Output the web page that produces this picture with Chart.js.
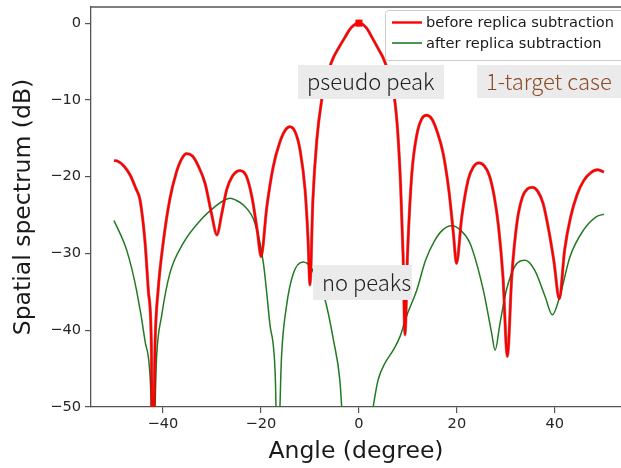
<!DOCTYPE html>
<html>
<head>
<meta charset="utf-8">
<script src="https://cdn.jsdelivr.net/npm/chart.js@4.4.1/dist/chart.umd.min.js"></script>
<style>
    html, body { margin: 0; padding: 0; background: #fff; overflow: hidden; }
    #wrap { width: 621px; height: 468px; }
</style>
</head>
<body>
<div id="wrap"><canvas id="graficoEspectro" width="621" height="468"></canvas></div>
<script>
// valores (angulo em graus, espectro em dB)
const beforeAngles = [
    -50.0, -49.2, -48.0, -46.7, -45.5, -44.7, -43.7, -43.0, -42.4, -42.1,
    -41.6, -41.0, -39.9, -38.6, -37.3, -36.2, -35.2, -34.0, -32.8, -31.4, -30.1, -29.0,
    -28.0, -27.0, -25.8, -24.3, -23.0, -21.8, -20.7, -20.0,
    -18.8, -17.5, -16.2, -15.1, -14.1, -13.0, -12.0, -11.0, -10.4, -10.0,
    -9.4, -8.6, -7.6, -6.9, -6.1, -5.3, -4.3, -3.0, -1.6, 0.0,
    1.5, 2.8, 4.0, 5.0, 5.8, 6.6, 7.3, 7.9, 8.5, 9.0, 9.4,
    9.9, 10.8, 11.8, 12.8, 13.8, 14.9, 16.0, 17.2, 18.4, 19.3, 19.9,
    21.0, 22.3, 23.4, 24.5, 25.6, 26.6, 27.6, 28.5, 29.4, 30.3,
    31.2, 32.3, 33.4, 34.4, 35.4, 36.5, 37.6, 38.7, 39.8, 40.9,
    42.0, 43.2, 44.5, 45.9, 47.3, 48.7, 50.0
]
const beforeDb = [
    -17.9, -18.0, -18.6, -19.8, -21.6, -23.0, -28.3, -34.8, -41.3, -58.0,
    -41.3, -34.8, -28.3, -22.9, -19.5, -17.7, -17.0, -17.3, -18.6, -20.9, -24.8, -27.6,
    -24.8, -21.7, -19.9, -19.2, -19.9, -22.8, -27.3, -30.4,
    -23.9, -18.7, -15.6, -14.0, -13.5, -14.2, -16.6, -21.7, -28.0, -34.1,
    -23.0, -15.2, -10.0, -7.8, -6.0, -4.6, -3.4, -2.0, -0.6, 0.0,
    -0.6, -2.0, -3.4, -4.6, -6.0, -7.8, -10.0, -14.0, -21.0, -30.0, -40.6,
    -30.4, -19.6, -14.6, -12.5, -12.0, -12.5, -14.2, -17.0, -22.0, -27.5, -31.3,
    -25.2, -20.4, -18.7, -18.2, -18.6, -19.8, -22.5, -26.5, -33.0, -43.4,
    -33.0, -25.8, -22.6, -21.6, -21.4, -21.9, -23.5, -26.8, -31.0, -35.9,
    -29.5, -25.3, -22.4, -20.5, -19.5, -19.1, -19.4
]

const afterAngles = [
    -50.0, -47.4, -45.4, -43.7, -42.5, -42.1, -41.3, -40.3, -38.6, -35.9, -32.4, -29.0, -27.6, -26.3, -25.0, -23.6,
    -21.2, -19.5, -18.2, -17.1, -16.6, -15.8, -14.8, -13.4, -11.4, -9.7, -8.4, -6.9, -5.2, -3.9, -1.5,
    1.0, 2.9, 3.9, 5.3, 7.0, 8.4, 9.7, 11.8, 13.6, 15.4, 17.0, 18.9, 20.8, 22.7, 25.4, 27.1, 27.8, 28.8, 30.1, 31.8,
    33.9, 35.9, 38.0, 39.5, 41.0, 43.1, 45.8, 48.5, 50.0
]
const afterDb = [
    -25.7, -29.6, -34.8, -41.3, -47.8, -58.0, -43.4, -38.2, -32.6, -28.7, -25.7, -23.7, -23.1, -22.8, -23.1, -23.7,
    -26.1, -31.3, -39.1, -45.6, -58.0, -43.4, -36.9, -32.6, -31.1, -31.9, -33.9, -36.1, -41.3, -46.5, -70.0,
    -58.0, -50.0, -46.5, -44.3, -42.6, -40.8, -38.2, -34.8, -30.9, -28.4, -27.0, -26.4, -27.0, -28.7, -34.8, -40.4, -42.6, -39.1, -34.8, -31.7,
    -30.9, -32.2, -35.6, -38.0, -35.6, -30.4, -27.0, -25.2, -24.9
]

const peakAngles = [0]
const peakDb = [0]

const xTicks = [-40, -20, 0, 20, 40]
const yTicks = [-50, -40, -30, -20, -10, 0]

const legendLabels = ['before replica subtraction', 'after replica subtraction']

const COR_ANTES = '#ff0000'
const COR_DEPOIS = '#237a23'
const COR_EIXO = '#555555'
const FONTE = "'DejaVu Sans', sans-serif"
const FONTE_NOTA = "'Noto Sans CJK JP', 'Noto Sans', sans-serif"

function pares(xs, ys) {
    return xs.map((x, i) => ({ x: x, y: ys[i] }))
}

function menos(v) {
    return String(v).replace('-', '\u2212')
}

function semPadding(s) {
    s.paddingLeft = 0
    s.paddingRight = 0
    s.paddingTop = 0
    s.paddingBottom = 0
}

// caixas de texto e legenda desenhadas por cima do grafico
const sobreposicao = {
    id: 'sobreposicao',
    afterDatasetsDraw(chart) {
        const ctx = chart.ctx
        const area = chart.chartArea

        // borda superior
        ctx.save()
        ctx.strokeStyle = COR_EIXO
        ctx.lineWidth = 1.3
        ctx.beginPath()
        ctx.moveTo(area.left, area.top)
        ctx.lineTo(area.right, area.top)
        ctx.stroke()

        const notas = [
            { texto: 'pseudo peak', x: 298, y: 65, w: 146, h: 34, cor: '#222222', tx: 307 },
            { texto: '1-target case', x: 477, y: 65, w: 150, h: 33, cor: '#8c4a26', tx: 486 },
            { texto: 'no peaks', x: 313, y: 265, w: 99, h: 35, cor: '#222222', tx: 322 }
        ]
        ctx.font = '300 22px ' + FONTE_NOTA
        ctx.textBaseline = 'middle'
        ctx.textAlign = 'left'
        notas.forEach(n => {
            ctx.fillStyle = '#ebebeb'
            ctx.fillRect(n.x, n.y, n.w, n.h)
            ctx.fillStyle = n.cor
            ctx.fillText(n.texto, n.tx, n.y + n.h / 2)
        })

        // legenda
        ctx.fillStyle = 'rgba(255,255,255,0.85)'
        ctx.strokeStyle = '#cccccc'
        ctx.lineWidth = 1
        ctx.beginPath()
        ctx.roundRect(385.5, 10.5, 250, 50, 3)
        ctx.fill()
        ctx.stroke()

        const cores = [COR_ANTES, COR_DEPOIS]
        const larguras = [2.4, 1.6]
        const linhasY = [22.5, 43]
        ctx.font = '14.6px ' + FONTE
        legendLabels.forEach((txt, i) => {
            ctx.strokeStyle = cores[i]
            ctx.lineWidth = larguras[i]
            ctx.beginPath()
            ctx.moveTo(392, linhasY[i])
            ctx.lineTo(422, linhasY[i])
            ctx.stroke()
            ctx.fillStyle = '#1a1a1a'
            ctx.fillText(txt, 426, linhasY[i] + 1)
        })
        ctx.restore()
    }
}

function criarEspectro() {
    const el = document.getElementById('graficoEspectro')
    if (!el) return

    const dadosAntes = pares(beforeAngles, beforeDb)

    new Chart(el, {
        type: 'line',
        data: {
            datasets: [
                {
                    label: legendLabels[1],
                    data: pares(afterAngles, afterDb),
                    borderColor: COR_DEPOIS,
                    borderWidth: 1.5,
                    pointRadius: 0,
                    cubicInterpolationMode: 'monotone',
                    fill: false,
                    clip: 0,
                    order: 4
                },
                {
                    // contorno escuro da curva vermelha
                    label: 'contorno',
                    data: dadosAntes,
                    borderColor: 'rgba(110,0,0,0.45)',
                    borderWidth: 3.2,
                    pointRadius: 0,
                    cubicInterpolationMode: 'monotone',
                    fill: false,
                    clip: 0,
                    order: 3
                },
                {
                    label: legendLabels[0],
                    data: dadosAntes,
                    borderColor: COR_ANTES,
                    borderWidth: 2.3,
                    pointRadius: 0,
                    cubicInterpolationMode: 'monotone',
                    fill: false,
                    clip: 0,
                    order: 2
                },
                {
                    label: 'peak',
                    data: pares(peakAngles, peakDb),
                    showLine: false,
                    pointStyle: 'rect',
                    pointRadius: 5,
                    pointBackgroundColor: COR_ANTES,
                    pointBorderColor: COR_ANTES,
                    pointBorderWidth: 0,
                    order: 1
                }
            ]
        },
        options: {
            responsive: false,
            animation: false,
            events: [],
            layout: { autoPadding: false, padding: { top: 7, right: 0, bottom: 0, left: 0 } },
            plugins: {
                legend: { display: false },
                tooltip: { enabled: false }
            },
            scales: {
                x: {
                    type: 'linear',
                    min: -54.7,
                    max: 53.5,
                    afterBuildTicks: s => { s.ticks = xTicks.map(v => ({ value: v })) },
                    afterFit: s => { s.height = 61; semPadding(s) },
                    ticks: {
                        color: '#262626',
                        font: { family: FONTE, size: 14.6 },
                        padding: 2,
                        maxRotation: 0,
                        callback: v => menos(v)
                    },
                    grid: { drawOnChartArea: false, drawTicks: true, tickLength: 6, color: COR_EIXO, lineWidth: 1.2 },
                    border: { display: true, color: COR_EIXO, width: 1.3 },
                    title: {
                        display: true,
                        text: 'Angle (degree)',
                        color: '#1a1a1a',
                        font: { family: FONTE, size: 23.5 },
                        padding: { top: 0, bottom: 2 }
                    }
                },
                y: {
                    type: 'linear',
                    min: -50,
                    max: 2.1,
                    afterBuildTicks: s => { s.ticks = yTicks.map(v => ({ value: v })) },
                    afterFit: s => { s.width = 91; semPadding(s) },
                    ticks: {
                        color: '#262626',
                        font: { family: FONTE, size: 14.6 },
                        padding: 4,
                        callback: v => menos(v)
                    },
                    grid: { drawOnChartArea: false, drawTicks: true, tickLength: 6, color: COR_EIXO, lineWidth: 1.2 },
                    border: { display: true, color: COR_EIXO, width: 1.3 },
                    title: {
                        display: true,
                        text: 'Spatial spectrum (dB)',
                        color: '#1a1a1a',
                        font: { family: FONTE, size: 23.5 },
                        padding: { top: 10, bottom: 0 }
                    }
                }
            }
        },
        plugins: [sobreposicao]
    })
}

document.addEventListener('DOMContentLoaded', () => {
    criarEspectro()
})
</script>
</body>
</html>
